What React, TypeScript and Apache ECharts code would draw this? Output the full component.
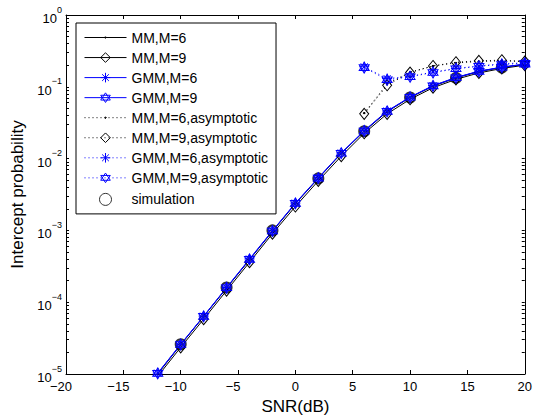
import React, { useEffect, useRef } from "react";
import * as echarts from "echarts";

// SNR grid (dB) for the exact curves
const snr = [-12, -10, -8, -6, -4, -2, 0, 2, 4, 6, 8, 10, 12, 14, 16, 18, 20];
const mmM6 = [1.0e-5, 2.55e-5, 6.3e-5, 1.57e-4, 3.9e-4, 9.7e-4, 2.35e-3, 5.3e-3, 1.18e-2, 2.4e-2, 4.5e-2, 7.1e-2, 1.02e-1, 1.33e-1, 1.63e-1, 1.86e-1, 2.05e-1];
const mmM9 = [0.93e-5, 2.35e-5, 5.8e-5, 1.45e-4, 3.6e-4, 9.0e-4, 2.15e-3, 4.9e-3, 1.08e-2, 2.25e-2, 4.2e-2, 6.7e-2, 0.97e-1, 1.27e-1, 1.56e-1, 1.8e-1, 2.0e-1];
const gmmM6 = [1.03e-5, 2.6e-5, 6.4e-5, 1.6e-4, 4.0e-4, 9.9e-4, 2.4e-3, 5.4e-3, 1.2e-2, 2.45e-2, 4.6e-2, 7.2e-2, 1.04e-1, 1.35e-1, 1.65e-1, 1.88e-1, 2.07e-1];
const gmmM9 = [1.02e-5, 2.58e-5, 6.35e-5, 1.59e-4, 3.95e-4, 9.8e-4, 2.38e-3, 5.35e-3, 1.19e-2, 2.43e-2, 4.55e-2, 7.15e-2, 1.03e-1, 1.34e-1, 1.64e-1, 1.87e-1, 2.06e-1];

// asymptotic curves (high SNR)
const asymSnr = [6, 8, 10, 12, 14, 16, 18, 20];
const mmM6Asym = [0.043, 0.11, 0.16, 0.195, 0.215, 0.225, 0.23, 0.225];
const mmM9Asym = [0.042, 0.105, 0.158, 0.195, 0.22, 0.23, 0.235, 0.225];
const gmmM6Asym = [0.19, 0.13, 0.14, 0.16, 0.18, 0.195, 0.21, 0.215];
const gmmM9Asym = [0.185, 0.125, 0.138, 0.158, 0.178, 0.193, 0.205, 0.213];

// simulation points
const simSnr = [-10, -6, -2, 2, 6, 10, 14, 18];
const sim = [2.6e-5, 1.6e-4, 1.0e-3, 5.3e-3, 2.4e-2, 7.1e-2, 1.33e-1, 1.86e-1];

const seriesNames = [
  "MM,M=6",
  "MM,M=9",
  "GMM,M=6",
  "GMM,M=9",
  "MM,M=6,asymptotic",
  "MM,M=9,asymptotic",
  "GMM,M=6,asymptotic",
  "GMM,M=9,asymptotic",
  "simulation",
];

const yDecades = [-5, -4, -3, -2, -1, 0];

const FONT = "'Liberation Sans', Arial, Helvetica, sans-serif";
const BLUE = "#0000ff";

const DOT = "path://M-6,-6 M6,6 M-1,0 L0,-1 L1,0 L0,1 Z";
const ASTER = "path://M0,-1 L0,1 M-1,0 L1,0 M-0.7,-0.7 L0.7,0.7 M-0.7,0.7 L0.7,-0.7";
const HEXA = "path://M0,-1 L0.866,0.5 L-0.866,0.5 Z M0,1 L-0.866,-0.5 L0.866,-0.5 Z";

const pts = (xs: number[], ys: number[]) => xs.map((x, i) => [x, Math.log10(ys[i])]);

const minorVals: number[] = [];
yDecades.forEach((k) => {
  if (k === 0) {
    minorVals.push(0);
    return;
  }
  for (let m = 1; m <= 9; m++) minorVals.push(Math.log10(m * Math.pow(10, k)));
});

function lineSeries(name: string, xs: number[], ys: number[], color: string, dotted: boolean, symbol: string, size: any, fill: string) {
  return {
    name,
    type: "line",
    data: pts(xs, ys),
    symbol,
    symbolSize: size,
    showSymbol: true,
    lineStyle: { color, width: 1, type: dotted ? [1, 3] : "solid" },
    itemStyle: { color: fill, borderColor: color, borderWidth: 1 },
    emphasis: { disabled: true },
  };
}

export default function App() {
  const ref = useRef<HTMLDivElement>(null);
  useEffect(() => {
    const chart = echarts.init(ref.current!, null, { renderer: "svg" });
    const xAxisBase = {
      type: "value",
      min: -20,
      max: 20,
      interval: 5,
      axisLine: { show: true, onZero: false, lineStyle: { color: "#000", width: 1 } },
      axisTick: { show: true, inside: true, length: 4, lineStyle: { color: "#000" } },
      splitLine: { show: false },
    };
    const yAxisBase = {
      type: "value",
      min: -5,
      max: 0,
      interval: 1,
      axisLine: { show: true, onZero: false, lineStyle: { color: "#000", width: 1 } },
      axisTick: { show: true, inside: true, length: 3, customValues: minorVals, lineStyle: { color: "#000" } },
      splitLine: { show: false },
    };
    const option: any = {
      animation: false,
      backgroundColor: "#fff",
      textStyle: { fontFamily: FONT },
      grid: { left: 66, right: 5, top: 15, bottom: 39, containLabel: false },
      legend: {
        orient: "vertical",
        left: 76,
        top: 23,
        padding: [7.5, 8, 6, 8],
        itemWidth: 42,
        itemHeight: 12,
        itemGap: 5.75,
        backgroundColor: "#fff",
        borderColor: "#000",
        borderWidth: 1,
        borderRadius: 0,
        selectedMode: false,
        lineStyle: { width: 1 },
        itemStyle: { borderWidth: 1 },
        textStyle: { fontSize: 14, color: "#000", fontFamily: FONT },
        data: seriesNames,
      },
      xAxis: [
        {
          ...xAxisBase,
          position: "bottom",
          name: "SNR(dB)",
          nameLocation: "middle",
          nameGap: 24,
          nameTextStyle: { fontSize: 17, color: "#000", fontFamily: FONT },
          axisLabel: {
            show: true,
            margin: 6,
            color: "#000",
            fontSize: 13,
            fontFamily: FONT,
            formatter: (v: number) => (v < 0 ? `{n|\u2212${-v}}` : `{p|${v}}`),
            rich: {
              n: { fontSize: 13, color: "#000", fontFamily: FONT, padding: [0, 10, 0, 0] },
              p: { fontSize: 13, color: "#000", fontFamily: FONT },
            },
          },
        },
        { ...xAxisBase, position: "top", axisLabel: { show: false } },
      ],
      yAxis: [
        {
          ...yAxisBase,
          position: "left",
          name: "Intercept probability",
          nameLocation: "middle",
          nameGap: 33.5,
          nameTextStyle: { fontSize: 17, color: "#000", fontFamily: FONT },
          axisLabel: {
            show: true,
            margin: 4,
            color: "#000",
            formatter: (v: number) => `{b|10}{s|${v === 0 ? "0" : "\u2212" + -v}}`,
            rich: {
              b: { fontSize: 13, color: "#000", fontFamily: FONT, lineHeight: 20, verticalAlign: "bottom" },
              s: { fontSize: 9, color: "#000", fontFamily: FONT, lineHeight: 10, verticalAlign: "top" },
            },
          },
        },
        { ...yAxisBase, position: "right", axisLabel: { show: false } },
      ],
      series: [
        lineSeries(seriesNames[0], snr, mmM6, "#000", false, DOT, 12, "#000"),
        lineSeries(seriesNames[1], snr, mmM9, "#000", false, "diamond", [9, 11], "none"),
        lineSeries(seriesNames[2], snr, gmmM6, BLUE, false, ASTER, 10, BLUE),
        lineSeries(seriesNames[3], snr, gmmM9, BLUE, false, HEXA, [10, 11], "none"),
        lineSeries(seriesNames[4], asymSnr, mmM6Asym, "#000", true, DOT, 12, "#000"),
        lineSeries(seriesNames[5], asymSnr, mmM9Asym, "#000", true, "diamond", [9, 11], "none"),
        lineSeries(seriesNames[6], asymSnr, gmmM6Asym, BLUE, true, ASTER, 10, BLUE),
        lineSeries(seriesNames[7], asymSnr, gmmM9Asym, BLUE, true, HEXA, [10, 11], "none"),
        {
          name: seriesNames[8],
          type: "scatter",
          data: pts(simSnr, sim),
          symbol: "circle",
          symbolSize: 10,
          itemStyle: { color: "none", borderColor: "#000", borderWidth: 2 },
          emphasis: { disabled: true },
        },
      ],
    };
    chart.setOption(option);
    return () => chart.dispose();
  }, []);
  return (
    <div
      ref={ref}
      style={{ position: "absolute", left: 0, top: 0, width: 535, height: 420, background: "#fff" }}
    />
  );
}
